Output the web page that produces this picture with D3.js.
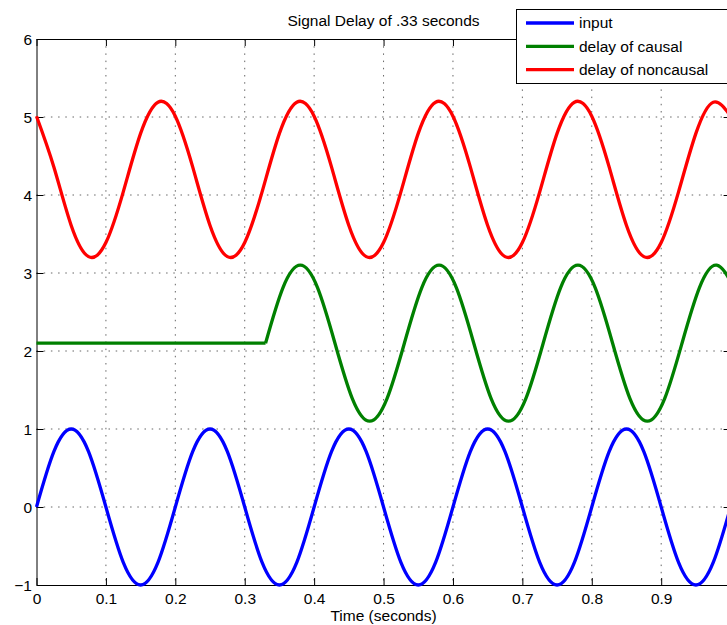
<!DOCTYPE html>
<html>
<head>
<meta charset="utf-8">
<title>Signal Delay</title>
<script src="https://d3js.org/d3.v7.min.js"></script>
<style>
  body { margin: 0; background: #fff; }
  svg { display: block; font-family: "Liberation Sans", Arial, sans-serif; }
  .grid line { stroke: #666; stroke-width: 1; stroke-dasharray: 1.5,5.7; }
</style>
</head>
<body>
<script>
var time = [0, 0.025, 0.05, 0.075, 0.1, 0.125, 0.15, 0.175, 0.2, 0.225,
  0.25, 0.275, 0.3, 0.325, 0.35, 0.375, 0.4, 0.425, 0.45, 0.475,
  0.5, 0.525, 0.55, 0.575, 0.6, 0.625, 0.65, 0.675, 0.7, 0.725,
  0.75, 0.775, 0.8, 0.825, 0.85, 0.875, 0.9, 0.925, 0.95, 0.975, 1];

var input = [0, 0.71, 1, 0.71, 0, -0.71, -1, -0.71,
  0, 0.71, 1, 0.71, 0, -0.71, -1, -0.71,
  0, 0.71, 1, 0.71, 0, -0.71, -1, -0.71,
  0, 0.71, 1, 0.71, 0, -0.71, -1, -0.71,
  0, 0.71, 1, 0.71, 0, -0.71, -1, -0.71, 0];

var noncausal = [5.01, 4.36, 3.61, 3.21, 3.39, 4.04, 4.79, 5.19,
  5.01, 4.36, 3.61, 3.21, 3.39, 4.04, 4.79, 5.19,
  5.01, 4.36, 3.61, 3.21, 3.39, 4.04, 4.79, 5.19,
  5.01, 4.36, 3.61, 3.21, 3.39, 4.04, 4.79, 5.19,
  5.01, 4.36, 3.61, 3.21, 3.39, 4.04, 4.79, 5.19, 5.01];

// causal output holds at 2.1 until 0.33 s, then follows the input
var causalTime = [0, 0.33, 0.355, 0.38, 0.405, 0.43, 0.455, 0.48, 0.505,
  0.53, 0.555, 0.58, 0.605, 0.63, 0.655, 0.68, 0.705, 0.73, 0.755,
  0.78, 0.805, 0.83, 0.855, 0.88, 0.905, 0.93, 0.955, 0.98, 1.005];
var causal = [2.1, 2.1, 2.81, 3.1, 2.81, 2.1, 1.39, 1.1, 1.39,
  2.1, 2.81, 3.1, 2.81, 2.1, 1.39, 1.1, 1.39, 2.1, 2.81,
  3.1, 2.81, 2.1, 1.39, 1.1, 1.39, 2.1, 2.81, 3.1, 2.81];

var xTicks = [0, 0.1, 0.2, 0.3, 0.4, 0.5, 0.6, 0.7, 0.8, 0.9];
var yTicks = [-1, 0, 1, 2, 3, 4, 5, 6];
var seriesNames = ["input", "delay of causal", "delay of noncausal"];
var seriesColors = ["#0000ff", "#008000", "#ff0000"];

var width = 727, height = 625;
var plotLeft = 36.5, plotRight = 730.6, plotTop = 39, plotBottom = 585;

var svg = d3.select("body").append("svg")
  .attr("width", width)
  .attr("height", height);

var x = d3.scaleLinear().domain([0, 1]).range([plotLeft, plotRight]);
var y = d3.scaleLinear().domain([-1, 6]).range([plotBottom, plotTop]);

// dotted grid
var grid = svg.append("g").attr("class", "grid");
grid.selectAll(".gx")
  .data(xTicks.slice(1))
  .enter().append("line")
  .attr("x1", d => x(d)).attr("x2", d => x(d))
  .attr("y1", plotTop).attr("y2", plotBottom);
grid.selectAll(".gy")
  .data(yTicks.slice(1, -1))
  .enter().append("line")
  .attr("x1", plotLeft).attr("x2", plotRight)
  .attr("y1", d => y(d)).attr("y2", d => y(d));

// axes with inward ticks
var fs = "15.5px";
var xAxis = svg.append("g")
  .attr("transform", "translate(0," + plotBottom + ")")
  .call(d3.axisBottom(x).tickValues(xTicks).tickSizeInner(-7).tickSizeOuter(0)
    .tickFormat(d3.format("")));
svg.append("g")
  .attr("transform", "translate(0," + plotTop + ")")
  .call(d3.axisTop(x).tickValues(xTicks).tickSizeInner(-7).tickSizeOuter(0)
    .tickFormat(""));
var yAxis = svg.append("g")
  .attr("transform", "translate(" + plotLeft + ",0)")
  .call(d3.axisLeft(y).tickValues(yTicks).tickSizeInner(-7).tickSizeOuter(0)
    .tickFormat(d => d < 0 ? "\u2212" + Math.abs(d) : d));
svg.append("g")
  .attr("transform", "translate(" + plotRight + ",0)")
  .call(d3.axisRight(y).tickValues(yTicks).tickSizeInner(-7).tickSizeOuter(0)
    .tickFormat(""));

svg.selectAll(".domain").attr("stroke", "#000").attr("stroke-width", 1);
svg.selectAll(".tick line").attr("stroke", "#000");
xAxis.selectAll("text")
  .attr("y", 8).attr("dy", "0.71em")
  .style("font-size", fs).attr("fill", "#000");
yAxis.selectAll("text")
  .attr("x", -4.5).attr("dy", "0.36em")
  .style("font-size", fs).attr("fill", "#000");
svg.selectAll("g.tick text").style("font-family", "'Liberation Sans', Arial, sans-serif");

// lines
var smooth = d3.line()
  .x(d => x(d[0])).y(d => y(d[1]))
  .curve(d3.curveNatural);
var straight = d3.line()
  .x(d => x(d[0])).y(d => y(d[1]));

var inputPts = time.map((t, i) => [t, input[i]]);
var noncausalPts = time.map((t, i) => [t, noncausal[i]]);
var causalPts = causalTime.map((t, i) => [t, causal[i]]);

var lines = svg.append("g")
  .attr("fill", "none")
  .attr("stroke-width", 3.3)
  .attr("stroke-linejoin", "round");

lines.append("path").attr("d", smooth(inputPts)).attr("stroke", seriesColors[0]);
lines.append("path").attr("d", straight(causalPts.slice(0, 2))).attr("stroke", seriesColors[1]);
lines.append("path").attr("d", smooth(causalPts.slice(1))).attr("stroke", seriesColors[1]);
lines.append("path").attr("d", smooth(noncausalPts)).attr("stroke", seriesColors[2]);

// title and label
svg.append("text")
  .attr("x", (plotLeft + plotRight) / 2).attr("y", 26)
  .attr("text-anchor", "middle")
  .style("font-size", fs)
  .text("Signal Delay of .33 seconds");
svg.append("text")
  .attr("x", (plotLeft + plotRight) / 2).attr("y", 621)
  .attr("text-anchor", "middle")
  .style("font-size", fs)
  .text("Time (seconds)");

// legend
var legend = svg.append("g");
legend.append("rect")
  .attr("x", 516.5).attr("y", 9.5)
  .attr("width", 230).attr("height", 74)
  .attr("fill", "#fff").attr("stroke", "#000").attr("stroke-width", 1);
var rows = legend.selectAll(".row")
  .data(seriesNames)
  .enter().append("g")
  .attr("transform", (d, i) => "translate(0," + (23 + i * 23.3) + ")");
rows.append("line")
  .attr("x1", 526).attr("x2", 574)
  .attr("stroke", (d, i) => seriesColors[i])
  .attr("stroke-width", 3.3);
rows.append("text")
  .attr("x", 579).attr("dy", "0.35em")
  .style("font-size", fs)
  .text(d => d);
</script>
</body>
</html>
